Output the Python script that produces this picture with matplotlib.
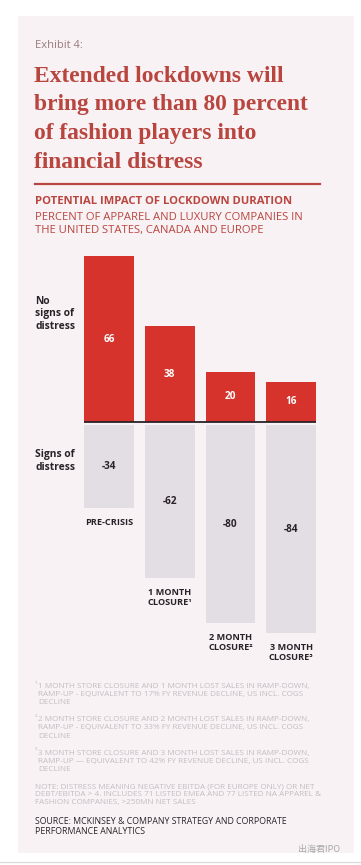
import matplotlib.pyplot as plt
from matplotlib.patches import Rectangle

# Data
categories = ['PRE-CRISIS', '1 MONTH\nCLOSURE\u00b9', '2 MONTH\nCLOSURE\u00b2', '3 MONTH\nCLOSURE\u00b3']
no_distress = [66, 38, 20, 16]
distress = [-34, -62, -80, -84]

footnotes = [
    ('\u00b9', '1 MONTH STORE CLOSURE AND 1 MONTH LOST SALES IN RAMP-DOWN,\nRAMP-UP - EQUIVALENT TO 17% FY REVENUE DECLINE, US INCL. COGS\nDECLINE'),
    ('\u00b2', '2 MONTH STORE CLOSURE AND 2 MONTH LOST SALES IN RAMP-DOWN,\nRAMP-UP - EQUIVALENT TO 33% FY REVENUE DECLINE, US INCL. COGS\nDECLINE'),
    ('\u00b3', '3 MONTH STORE CLOSURE AND 3 MONTH LOST SALES IN RAMP-DOWN,\nRAMP-UP \u2014 EQUIVALENT TO 42% FY REVENUE DECLINE, US INCL. COGS\nDECLINE'),
]
note = ('NOTE: DISTRESS MEANING NEGATIVE EBITDA (FOR EUROPE ONLY) OR NET\n'
        'DEBT/EBITDA > 4. INCLUDES 71 LISTED EMEA AND 77 LISTED NA APPAREL &\n'
        'FASHION COMPANIES, >250MN NET SALES')
source = 'SOURCE: MCKINSEY & COMPANY STRATEGY AND CORPORATE\nPERFORMANCE ANALYTICS'

RED = '#d5332c'
GREY = '#e3dee3'
TITLE_RED = '#b9453f'
DARK = '#2a2228'
NOTE_GREY = '#c4bcc2'

W, H = 361, 865
plt.rcParams['font.family'] = ['Open Sans', 'DejaVu Sans']
fig = plt.figure(figsize=(W / 100, H / 100), dpi=100)
fig.patch.set_facecolor('white')


def fx(x):
    return x / W


def fy(y):
    return 1 - y / H


# background panel
fig.patches.append(Rectangle((fx(18), fy(853)), fx(336), 837 / H, transform=fig.transFigure,
                             facecolor='#f8f2f5', edgecolor='none', zorder=-5))
fig.add_artist(plt.Line2D([0, 1], [fy(862), fy(862)], color='#dcdcdc', lw=1, zorder=-4))

# header
fig.text(fx(35), fy(46), 'Exhibit 4:', fontsize=8, color='#9a7a7c', va='center')
title = ['Extended lockdowns will', 'bring more than 80 percent',
         'of fashion players into', 'financial distress']
for i, line in enumerate(title):
    fig.text(fx(34), fy(76 + i * 28.7), line, fontsize=16.9, color=TITLE_RED,
             family='Liberation Serif', weight='bold', va='center')
fig.add_artist(plt.Line2D([fx(35), fx(320)], [fy(184), fy(184)], color=TITLE_RED, lw=1.6))
fig.text(fx(35), fy(202), 'POTENTIAL IMPACT OF LOCKDOWN DURATION', fontsize=8.1,
         color=TITLE_RED, weight='bold', va='center')
fig.text(fx(35), fy(218), 'PERCENT OF APPAREL AND LUXURY COMPANIES IN', fontsize=8.1,
         color=TITLE_RED, va='center')
fig.text(fx(35), fy(231), 'THE UNITED STATES, CANADA AND EUROPE', fontsize=8.1,
         color=TITLE_RED, va='center')

# bars: xlim (-0.5, 3.5) -> px 78.7..321.5, ylim (-90, 70) -> baseline at 422px
x0, x1 = 78.7, 321.5
ppu = 2.515
y_top = 422 - 70 * ppu
y_bot = 422 + 90 * ppu
ax = fig.add_axes([fx(x0), fy(y_bot), (x1 - x0) / W, (y_bot - y_top) / H])
ax.set_xlim(-0.5, 3.5)
ax.set_ylim(-90, 70)
ax.axis('off')

xs = range(len(categories))
gap = 1.2
ax.bar(xs, no_distress, width=0.82, color=RED, zorder=2)
ax.bar(xs, [d + gap for d in distress], bottom=-gap, width=0.82, color=GREY, zorder=2)
ax.plot([-0.41, 3.41], [0, 0], color=DARK, lw=1.3, zorder=3, solid_capstyle='butt')

for i in xs:
    ax.text(i, no_distress[i] / 2, str(no_distress[i]), ha='center', va='center',
            color='white', fontsize=7.2, weight='bold')
    ax.text(i, (distress[i] - gap) / 2, str(distress[i]), ha='center', va='center',
            color=DARK, fontsize=7.2, weight='bold')
    ax.annotate(categories[i], (i, distress[i]), xytext=(0, -10), textcoords='offset pixels',
                ha='center', va='top', fontsize=6.6, weight='bold', color=DARK,
                linespacing=1.15)

fig.text(fx(35), fy(314), 'No\nsigns of\ndistress', fontsize=7.4, weight='bold',
         color=DARK, va='center', linespacing=1.2)
fig.text(fx(35), fy(461), 'Signs of\ndistress', fontsize=7.4, weight='bold',
         color=DARK, va='center', linespacing=1.2)

# footnotes
for i, (mark, txt) in enumerate(footnotes):
    y = 683 + i * 33.5
    fig.text(fx(34.5), fy(y + 2), mark, fontsize=5, color=NOTE_GREY, va='center')
    fig.text(fx(38.5), fy(y), txt, fontsize=5.9, color=NOTE_GREY, va='top',
             linespacing=1.2)

fig.text(fx(35), fy(783), note, fontsize=5.9, color=NOTE_GREY, va='top', linespacing=1.2)
fig.text(fx(35), fy(817), source, fontsize=6.3, color=DARK, va='top', linespacing=1.15)

# watermark
fig.text(fx(340), fy(849), '出海君IPO', fontsize=6.5, color='#a8a8a8', ha='right', va='center',
         family=['Noto Sans CJK SC', 'DejaVu Sans'])

fig.savefig('out.png', dpi=100, facecolor=fig.get_facecolor())
